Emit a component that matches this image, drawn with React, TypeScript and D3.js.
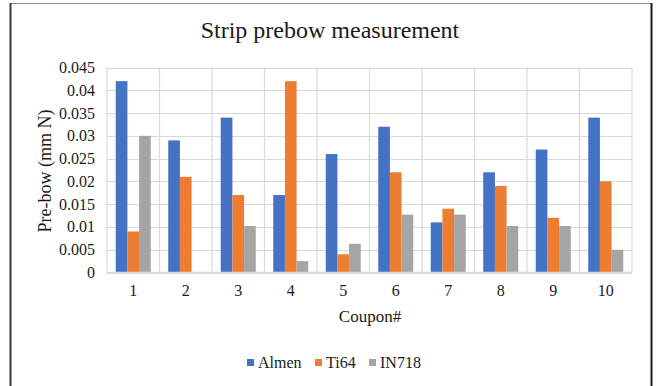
import React from "react";
import * as d3 from "d3";

const coupons = ["1", "2", "3", "4", "5", "6", "7", "8", "9", "10"];
const seriesNames = ["Almen", "Ti64", "IN718"];
const almen = [0.042, 0.029, 0.034, 0.017, 0.026, 0.032, 0.011, 0.022, 0.027, 0.034];
const ti64 = [0.009, 0.021, 0.017, 0.042, 0.004, 0.022, 0.014, 0.019, 0.012, 0.02];
const in718 = [0.03, 0, 0.0102, 0.0025, 0.0063, 0.0127, 0.0127, 0.0102, 0.0102, 0.005];
const yTicks = [0, 0.005, 0.01, 0.015, 0.02, 0.025, 0.03, 0.035, 0.04, 0.045];
const colors = ["#4472C4", "#ED7D31", "#A5A5A5"];

const W = 657;
const H = 386;
const plot = { left: 107, right: 632, top: 67.5, bottom: 272.5 };
const font = "'Liberation Serif', 'Times New Roman', serif";

export default function App() {
  const values = [almen, ti64, in718];

  const x = d3.scaleBand().domain(coupons).range([plot.left, plot.right]).paddingInner(0).paddingOuter(0);
  // Excel gap width 150%: bar group = 3 bars, gap = 1.5 bars
  const barW = x.bandwidth() / 4.5;
  const groupOffset = barW * 0.75;
  const y = d3.scaleLinear().domain([0, 0.045]).range([plot.bottom, plot.top]);

  const fmt = (v: number) => (v === 0 ? "0" : String(+v.toFixed(3)));

  const legendItems = [
    { x: 247, label: seriesNames[0], color: colors[0] },
    { x: 315, label: seriesNames[1], color: colors[1] },
    { x: 369, label: seriesNames[2], color: colors[2] },
  ];

  return (
    <svg width={W} height={H} style={{ position: "absolute", left: 0, top: 0 }} fontFamily={font}>
      <rect x={0} y={0} width={W} height={H} fill="#fff" />
      {/* frame */}
      <line x1={10} x2={652} y1={3.5} y2={3.5} stroke="#8c8c8c" strokeWidth={1} />
      <line x1={10.5} x2={10.5} y1={3} y2={H} stroke="#3a3a3a" strokeWidth={2} />
      <line x1={651.5} x2={651.5} y1={3} y2={H} stroke="#1a1a1a" strokeWidth={2} />

      <text x={330} y={38} textAnchor="middle" fontSize={24} fill="#1a1a1a">
        Strip prebow measurement
      </text>

      {/* horizontal gridlines */}
      {yTicks.map((t) => (
        <line key={"h" + t} x1={plot.left} x2={plot.right} y1={Math.round(y(t)) + 0.5} y2={Math.round(y(t)) + 0.5}
          stroke="#d9d9d9" strokeWidth={1.2} />
      ))}
      {/* vertical gridlines at category boundaries */}
      {coupons.map((c) => (
        <line key={"v" + c} x1={x(c)!} x2={x(c)!} y1={plot.top} y2={plot.bottom} stroke="#d9d9d9" strokeWidth={1.2} />
      ))}
      <line x1={plot.right} x2={plot.right} y1={plot.top} y2={plot.bottom} stroke="#d9d9d9" strokeWidth={1.2} />

      {/* bars */}
      {values.map((arr, si) =>
        arr.map((v, i) => (
          <rect key={si + "-" + i}
            x={x(coupons[i])! + groupOffset + si * barW}
            y={y(v)}
            width={barW}
            height={plot.bottom - y(v)}
            fill={colors[si]} />
        ))
      )}

      {/* baseline */}
      <line x1={plot.left} x2={plot.right} y1={plot.bottom} y2={plot.bottom} stroke="#d9d9d9" strokeWidth={1.5} />

      {/* y tick labels */}
      {yTicks.map((t) => (
        <text key={"yl" + t} x={95} y={y(t) + 5.5} textAnchor="end" fontSize={16} fill="#1a1a1a">
          {fmt(t)}
        </text>
      ))}

      {/* x tick labels */}
      {coupons.map((c) => (
        <text key={"xl" + c} x={x(c)! + x.bandwidth() / 2} y={296} textAnchor="middle" fontSize={16} fill="#1a1a1a">
          {c}
        </text>
      ))}

      <text x={370} y={322} textAnchor="middle" fontSize={17} fill="#1a1a1a">Coupon#</text>
      <text transform="translate(51,171) rotate(-90)" textAnchor="middle" fontSize={18} fill="#1a1a1a">
        Pre-bow (mm N)
      </text>

      {legendItems.map((it) => (
        <g key={it.label}>
          <rect x={it.x} y={359} width={7} height={7} fill={it.color} />
          <text x={it.x + 11} y={368} fontSize={16} fill="#1a1a1a">{it.label}</text>
        </g>
      ))}
    </svg>
  );
}
